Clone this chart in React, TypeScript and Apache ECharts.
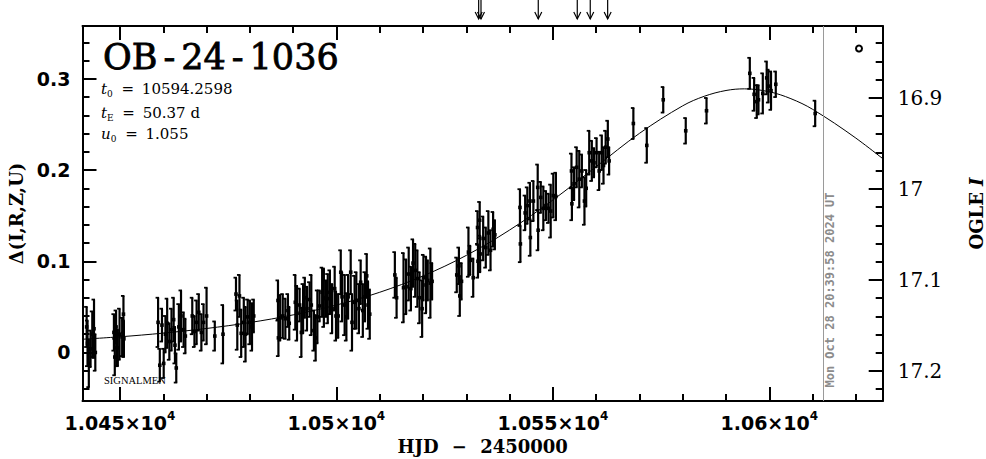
import React, { useEffect, useRef } from 'react';
import * as echarts from 'echarts';

// ---- Axis ranges ----
const X_MIN = 10441.34;
const X_MAX = 10626.2;
const Y_MIN = -0.0532;
const Y_MAX = 0.3579;
const MAG_TOP = 16.8213;
const MAG_BOTTOM = 17.2329;

// ---- Observations: HJD-2450000, Δ(I,R,Z,U), error ----
const HJD = [
  10442.3, 10442.5, 10442.8, 10443.2, 10443.6, 10444.0, 10444.3,
  10448.6, 10448.8, 10449.1, 10449.2, 10449.5, 10449.9, 10450.5, 10450.8, 10450.9,
  10458.8, 10459.2, 10459.7, 10460.1, 10460.5, 10460.9, 10461.4, 10461.9, 10462.4, 10462.7, 10463.0, 10463.6, 10464.1, 10464.7, 10465.1,
  10466.7, 10467.2, 10467.7, 10468.2, 10468.8, 10469.3, 10470.0,
  10471.9, 10473.8,
  10476.8, 10477.1, 10477.6, 10478.0, 10478.6, 10479.0, 10479.5, 10480.0, 10480.5, 10480.9,
  10486.5, 10486.6, 10487.0, 10487.6, 10488.2, 10488.8, 10489.1,
  10490.5, 10490.9, 10491.5, 10491.9, 10492.3, 10492.7, 10493.2, 10493.8, 10494.2, 10494.8,
  10495.2, 10495.6, 10496.1, 10496.7, 10497.1, 10497.6, 10498.0, 10498.5, 10499.0, 10499.6,
  10499.9, 10500.4, 10501.0, 10501.3, 10501.9, 10502.3, 10502.7, 10503.3, 10503.6, 10504.2,
  10504.6, 10505.2, 10505.6, 10506.1, 10506.6, 10507.0, 10507.3, 10507.7,
  10513.5, 10513.9, 10515.5, 10516.1, 10516.7, 10517.2, 10517.7, 10518.2, 10518.7, 10519.2, 10519.8, 10520.1, 10520.7, 10521.1, 10521.7, 10522.1,
  10527.8, 10528.3, 10528.5, 10528.9,
  10530.5, 10530.9, 10531.6, 10532.6, 10532.7, 10533.1, 10533.2, 10533.9, 10534.5, 10535.1, 10535.6, 10536.2, 10536.6,
  10542.4, 10542.5, 10543.6, 10544.1, 10544.7, 10544.8, 10545.5, 10546.5, 10546.6, 10547.2, 10547.8, 10548.4, 10549.0, 10549.5, 10550.1, 10550.7,
  10554.3, 10554.4, 10554.9, 10555.5, 10556.1, 10556.7, 10557.3, 10557.7,
  10558.4, 10559.0, 10559.5, 10560.1, 10560.7, 10561.3, 10561.7, 10562.2, 10562.7, 10563.0,
  10568.6, 10571.7, 10575.5, 10580.7, 10585.5,
  10595.5, 10596.5, 10597.1, 10597.5, 10598.5, 10599.4, 10599.8, 10600.4, 10601.5,
  10610.6,
];
const DELTA = [
  0.028, 0.010, -0.012, 0.004, 0.020, 0.026, 0.000,
  0.022, -0.005, 0.028, 0.005, 0.005, 0.020, 0.017, 0.042, 0.015,
  0.033, -0.014, 0.030, -0.012, 0.020, 0.032, 0.012, 0.025, 0.036, 0.008, -0.017, 0.028, 0.040, 0.025, 0.018,
  0.040, 0.023, 0.033, 0.044, 0.022, 0.033, 0.040,
  0.018, 0.020,
  0.064, 0.030, 0.062, 0.021, 0.033, 0.020, 0.039, 0.033, 0.028, 0.040,
  0.057, 0.016, 0.038, 0.040, 0.037, 0.046, 0.032,
  0.055, 0.043, 0.052, 0.022, 0.048, 0.060, 0.048, 0.058, 0.052, 0.024,
  0.016, 0.039, 0.051, 0.066, 0.060, 0.059, 0.059, 0.066, 0.048, 0.070,
  0.040, 0.040, 0.088, 0.061, 0.052, 0.039, 0.061, 0.088, 0.033, 0.055,
  0.057, 0.048, 0.077, 0.046, 0.061, 0.084, 0.052, 0.042,
  0.085, 0.060, 0.071, 0.072, 0.086, 0.070, 0.098, 0.090, 0.081, 0.060, 0.048, 0.082, 0.074, 0.079, 0.076, 0.078,
  0.085, 0.095, 0.062, 0.078,
  0.110, 0.101, 0.082, 0.137, 0.100, 0.145, 0.108, 0.125, 0.115, 0.131, 0.112, 0.135, 0.129,
  0.159, 0.119, 0.153, 0.161, 0.166, 0.126, 0.166, 0.181, 0.134, 0.170, 0.158, 0.161, 0.158, 0.155, 0.172, 0.171,
  0.199, 0.163, 0.185, 0.203, 0.190, 0.199, 0.166, 0.180,
  0.219, 0.210, 0.208, 0.219, 0.199, 0.219, 0.205, 0.225, 0.234, 0.210,
  0.251, 0.227, 0.277, 0.243, 0.265,
  0.306, 0.283, 0.275, 0.277, 0.284, 0.301, 0.292, 0.287, 0.294,
  0.262,
];
const ERR = [
  0.022, 0.025, 0.026, 0.020, 0.025, 0.032, 0.020,
  0.020, 0.020, 0.018, 0.020, 0.020, 0.028, 0.021, 0.020, 0.020,
  0.027, 0.018, 0.018, 0.016, 0.020, 0.027, 0.020, 0.023, 0.024, 0.020, 0.016, 0.025, 0.028, 0.019, 0.019,
  0.020, 0.017, 0.024, 0.020, 0.020, 0.020, 0.031,
  0.016, 0.032,
  0.018, 0.027, 0.023, 0.026, 0.027, 0.030, 0.019, 0.024, 0.026, 0.018,
  0.022, 0.020, 0.025, 0.024, 0.022, 0.018, 0.018,
  0.030, 0.030, 0.018, 0.027, 0.027, 0.022, 0.024, 0.019, 0.033, 0.022,
  0.025, 0.029, 0.017, 0.027, 0.032, 0.020, 0.027, 0.024, 0.027, 0.024,
  0.027, 0.024, 0.024, 0.027, 0.033, 0.026, 0.024, 0.024, 0.031, 0.029,
  0.031, 0.027, 0.024, 0.029, 0.027, 0.024, 0.026, 0.027,
  0.025, 0.022, 0.038, 0.030, 0.029, 0.024, 0.026, 0.029, 0.031, 0.028, 0.031, 0.025, 0.031, 0.022, 0.038, 0.020,
  0.019, 0.020, 0.022, 0.020,
  0.027, 0.016, 0.021, 0.018, 0.018, 0.020, 0.020, 0.024, 0.022, 0.024, 0.022, 0.019, 0.016,
  0.020, 0.020, 0.019, 0.020, 0.020, 0.020, 0.022, 0.025, 0.022, 0.017, 0.024, 0.016, 0.016, 0.029, 0.024, 0.026,
  0.019, 0.018, 0.018, 0.022, 0.031, 0.018, 0.026, 0.020,
  0.024, 0.022, 0.016, 0.016, 0.021, 0.019, 0.020, 0.018, 0.020, 0.015,
  0.017, 0.019, 0.014, 0.014, 0.014,
  0.017, 0.018, 0.018, 0.016, 0.022, 0.018, 0.018, 0.021, 0.014,
  0.014,
];

// ---- Microlensing model curve (t0 = 10594.2598, tE = 50.37 d, u0 = 1.055), tabulated ----
const MODEL_HJD = [
  10440, 10450, 10460, 10470, 10480, 10490, 10500, 10510, 10520, 10530, 10540, 10550,
  10560, 10570, 10580, 10585, 10590, 10594.26, 10600, 10605, 10610, 10620, 10630,
];
const MODEL_DELTA = [
  0.0141, 0.0172, 0.0212, 0.0263, 0.0328, 0.0412, 0.0520, 0.0660, 0.0839, 0.1064, 0.1342, 0.1671,
  0.2037, 0.2402, 0.2704, 0.2809, 0.2872, 0.2890, 0.2858, 0.2782, 0.2666, 0.2350, 0.1982,
];

// ---- Marks above the frame and the "now" line ----
const ARROW_HJD = [10532.86, 10533.4, 10546.63, 10555.64, 10558.64, 10562.66];
const NOW_HJD = 10612.36;
const NOW_TEXT = 'Mon Oct 28 20:39:58 2024 UT';

const EVENT_NAME_RICH = '{a|OB}{d|-}{a|24}{d|-}{a|1036}';
const PARAM_LINES = [
  '{i|t}{s|0}{e| = }{n|10594.2598}',
  '{i|t}{s|E}{e| = }{n|50.37 d}',
  '{i|u}{s|0}{e| = }{n|1.055}',
];

const BLACK = '#000';

export default function App() {
  const ref = useRef<HTMLDivElement | null>(null);

  useEffect(() => {
    if (!ref.current) return;
    const chart = echarts.init(ref.current, undefined, { renderer: 'svg' });

    const errData = HJD.map((t, i) => [t, DELTA[i], ERR[i]]);
    const modelData = MODEL_HJD.map((t, i) => [t, MODEL_DELTA[i]]);
    const arrowData = ARROW_HJD.map((t) => [t, 0]);

    const tickStyle = { color: BLACK, width: 2 };
    const axisLineCfg = { show: true, onZero: false, lineStyle: { color: BLACK, width: 2 } };
    const axisTickCfg = { show: true, inside: true, length: 14, lineStyle: tickStyle };
    const minorTickCfg = { show: true, inside: true, splitNumber: 5, length: 7, lineStyle: tickStyle };

    const nameFont = { fontFamily: 'DejaVu Serif', fontWeight: 'bold' as const, fontSize: 18, color: BLACK, lineHeight: 18 };

    const paramRich = {
      i: { fontFamily: 'DejaVu Serif', fontStyle: 'italic' as const, fontSize: 15, fill: BLACK, color: BLACK },
      s: { fontFamily: 'DejaVu Serif', fontSize: 9, padding: [9, 1, 0, 0], fill: BLACK, color: BLACK },
      e: { fontFamily: 'DejaVu Serif', fontSize: 15, padding: [0, 3], fill: BLACK, color: BLACK },
      n: { fontFamily: 'DejaVu Serif', fontSize: 15, fill: BLACK, color: BLACK },
    };

    const titleRich = {
      a: { fontFamily: 'DejaVu Serif', fontSize: 35, fill: BLACK, color: BLACK, stroke: BLACK, lineWidth: 0.8 },
      d: { fontFamily: 'DejaVu Serif', fontSize: 35, fill: BLACK, color: BLACK, stroke: BLACK, lineWidth: 0.8, padding: [0, 6] },
    };

    const option: any = {
      animation: false,
      backgroundColor: '#fff',
      textStyle: { fontFamily: 'DejaVu Serif' },
      grid: {
        left: 82.5,
        right: 103.3,
        top: 26,
        bottom: 58,
        containLabel: false,
        outerBoundsMode: 'none',
      },
      xAxis: [
        {
          type: 'value',
          position: 'bottom',
          min: X_MIN,
          max: X_MAX,
          splitNumber: 4,
          axisLine: axisLineCfg,
          axisTick: axisTickCfg,
          minorTick: minorTickCfg,
          splitLine: { show: false },
          minorSplitLine: { show: false },
          axisLabel: {
            showMinLabel: false,
            showMaxLabel: false,
            margin: 9,
            formatter: (v: number) => `{m|${Number((v / 1e4).toFixed(4))}×10}{s|4}`,
            rich: {
              m: { fontFamily: 'DejaVu Sans', fontWeight: 'bold', fontSize: 19, color: BLACK, lineHeight: 22, verticalAlign: 'bottom' },
              s: { fontFamily: 'DejaVu Sans', fontWeight: 'bold', fontSize: 12, color: BLACK, lineHeight: 12, verticalAlign: 'top' },
            },
          },
          name: '{a|HJD }{b|−}{a| 2450000}',
          nameLocation: 'middle',
          nameGap: 36,
          nameMoveOverlap: false,
          nameTextStyle: {
            ...nameFont,
            rich: {
              a: { ...nameFont },
              b: { ...nameFont, padding: [0, 7] },
            },
          },
        },
        {
          type: 'value',
          position: 'top',
          min: X_MIN,
          max: X_MAX,
          splitNumber: 4,
          axisLine: axisLineCfg,
          axisTick: axisTickCfg,
          minorTick: minorTickCfg,
          splitLine: { show: false },
          axisLabel: { show: false },
        },
      ],
      yAxis: [
        {
          type: 'value',
          position: 'left',
          min: Y_MIN,
          max: Y_MAX,
          splitNumber: 4,
          axisLine: axisLineCfg,
          axisTick: axisTickCfg,
          minorTick: minorTickCfg,
          splitLine: { show: false },
          minorSplitLine: { show: false },
          axisLabel: {
            showMinLabel: false,
            showMaxLabel: false,
            margin: 12,
            fontFamily: 'DejaVu Sans',
            fontWeight: 'bold',
            fontSize: 19,
            color: BLACK,
          },
          name: 'Δ(I,R,Z,U)',
          nameLocation: 'middle',
          nameRotate: 90,
          nameGap: 57,
          nameMoveOverlap: false,
          nameTextStyle: nameFont,
        },
        {
          type: 'value',
          position: 'right',
          inverse: true,
          min: MAG_TOP,
          max: MAG_BOTTOM,
          splitNumber: 4,
          axisLine: axisLineCfg,
          axisTick: axisTickCfg,
          minorTick: minorTickCfg,
          splitLine: { show: false },
          minorSplitLine: { show: false },
          axisLabel: {
            showMinLabel: false,
            showMaxLabel: false,
            margin: 15,
            fontFamily: 'DejaVu Serif',
            fontSize: 20,
            color: BLACK,
          },
          name: '{a|OGLE }{b|I}',
          nameLocation: 'middle',
          nameRotate: 90,
          nameGap: 85,
          nameMoveOverlap: false,
          nameTextStyle: {
            ...nameFont,
            rich: {
              a: { ...nameFont },
              b: { ...nameFont, fontStyle: 'italic' },
            },
          },
        },
      ],
      series: [
        {
          type: 'line',
          name: 'model',
          xAxisIndex: 0,
          yAxisIndex: 0,
          data: modelData,
          smooth: 0.35,
          showSymbol: false,
          symbol: 'none',
          silent: true,
          lineStyle: { color: BLACK, width: 1 },
          z: 3,
          markLine: {
            silent: true,
            symbol: 'none',
            label: { show: false },
            lineStyle: { color: '#9a9a9a', width: 1, type: 'solid' },
            data: [{ xAxis: NOW_HJD }],
          },
        },
        {
          type: 'custom',
          name: 'data',
          xAxisIndex: 0,
          yAxisIndex: 0,
          data: errData,
          dimensions: ['hjd', 'delta', 'err'],
          encode: { x: 0, y: 1 },
          silent: true,
          z: 4,
          renderItem: (params: any, api: any) => {
            const x = api.value(0);
            const y = api.value(1);
            const e = api.value(2);
            const c = api.coord([x, y]);
            const hi = api.coord([x, y + e]);
            const lo = api.coord([x, y - e]);
            const cap = { stroke: BLACK, lineWidth: 1.8 };
            return {
              type: 'group',
              children: [
                { type: 'line', shape: { x1: c[0], y1: hi[1], x2: c[0], y2: lo[1] }, style: { stroke: BLACK, lineWidth: 2.2 } },
                { type: 'line', shape: { x1: c[0] - 2.5, y1: hi[1], x2: c[0] + 1, y2: hi[1] }, style: cap },
                { type: 'line', shape: { x1: c[0] - 2.5, y1: lo[1], x2: c[0] + 1, y2: lo[1] }, style: cap },
                { type: 'rect', shape: { x: c[0] - 1.8, y: c[1] - 1.8, width: 3.6, height: 3.6 }, style: { fill: BLACK } },
              ],
            };
          },
        },
        {
          type: 'custom',
          name: 'arrows',
          xAxisIndex: 0,
          yAxisIndex: 0,
          data: arrowData,
          encode: { x: 0, y: 1 },
          silent: true,
          clip: false,
          renderItem: (params: any, api: any) => {
            const x = api.coord([api.value(0), 0])[0];
            const top = params.coordSys.y;
            const st = { stroke: BLACK, lineWidth: 1.2, fill: 'none' };
            return {
              type: 'group',
              children: [
                { type: 'line', shape: { x1: x, y1: 0, x2: x, y2: top - 7 }, style: st },
                { type: 'polyline', shape: { points: [[x - 3.5, top - 14], [x, top - 7], [x + 3.5, top - 14]] }, style: st },
              ],
            };
          },
        },
      ],
      graphic: [
        {
          type: 'text',
          x: 103,
          y: 57,
          silent: true,
          style: { text: EVENT_NAME_RICH, rich: titleRich, fill: BLACK, align: 'left', verticalAlign: 'middle' },
        },
        ...PARAM_LINES.map((txt, i) => ({
          type: 'text',
          x: 101,
          y: [89, 113, 134][i],
          silent: true,
          style: { text: txt, rich: paramRich, fill: BLACK, align: 'left', verticalAlign: 'middle' },
        })),
        {
          type: 'text',
          x: 104,
          y: 380,
          silent: true,
          style: { text: 'SIGNALMEN', font: '10.5px "Liberation Serif"', fill: BLACK, align: 'left', verticalAlign: 'middle' },
        },
        {
          type: 'text',
          x: 830,
          y: 290,
          rotation: Math.PI / 2,
          silent: true,
          style: { text: NOW_TEXT, font: 'bold 12px "DejaVu Sans Mono"', fill: '#8c8c8c', align: 'center', verticalAlign: 'middle' },
        },
        {
          type: 'circle',
          silent: true,
          shape: { cx: 859, cy: 48.5, r: 3 },
          style: { fill: '#fff', stroke: BLACK, lineWidth: 2 },
        },
      ],
    };

    chart.setOption(option);
    return () => {
      chart.dispose();
    };
  }, []);

  return (
    <div
      ref={ref}
      style={{ position: 'absolute', left: 0, top: 0, width: 986, height: 459, background: '#fff' }}
    />
  );
}
